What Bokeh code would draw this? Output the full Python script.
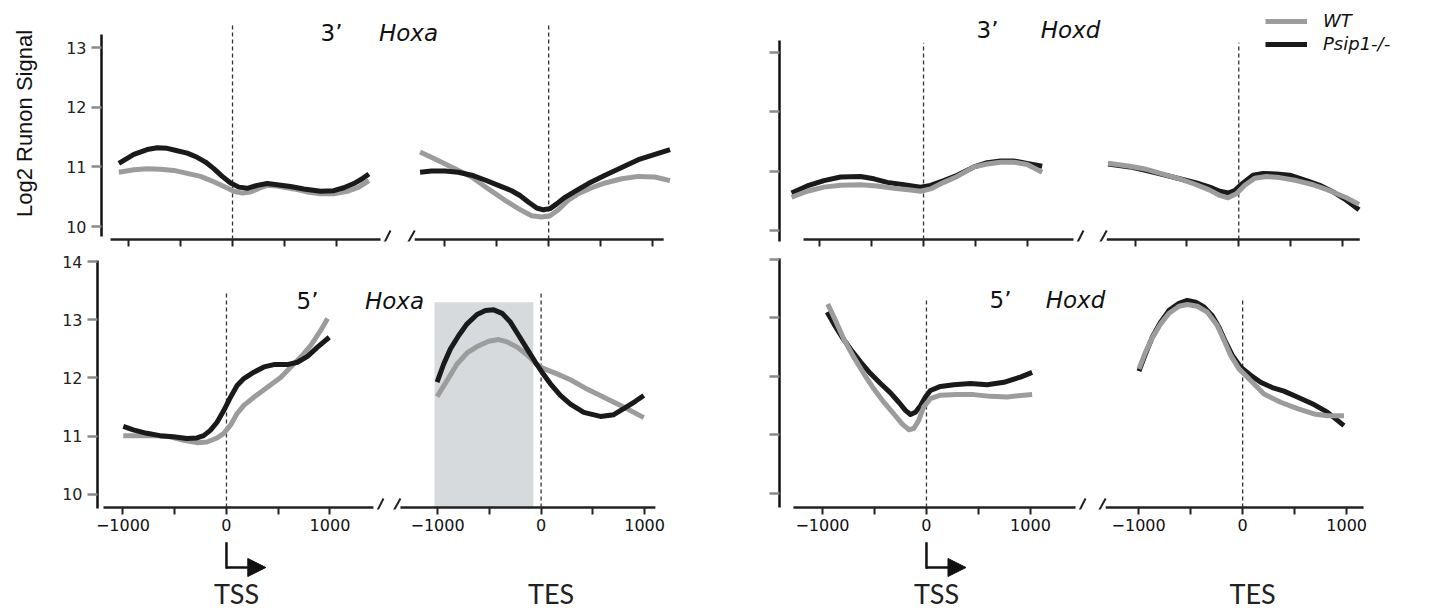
from bokeh.plotting import figure
from bokeh.layouts import column, row
from bokeh.models import Range1d, FixedTicker, Label, Legend, LegendItem, Arrow, NormalHead
from bokeh.core.properties import value
from bokeh.embed import file_html
from bokeh.resources import INLINE

# ---------------- data ----------------
X_TICKS = [-1000, -500, 0, 500, 1000]
X_TICK_LABELS = ["\u22121000", "", "0", "", "1000"]
Y_TICKS_TOP = [10, 11, 12, 13]
Y_TICK_LABELS_TOP = ["10", "11", "12", "13"]
Y_TICKS_BOTTOM = [10, 11, 12, 13, 14]
Y_TICK_LABELS_BOTTOM = ["10", "11", "12", "13", "14"]
SERIES = ["WT", "Psip1-/-"]
REGIONS = ["TSS", "TES"]
TITLE_PRIME = ["3\u2019", "3\u2019", "5\u2019", "5\u2019"]
TITLE_GENE = ["Hoxa", "Hoxd", "Hoxa", "Hoxd"]
Y_LABEL = "Log2 Runon Signal"

# 3' Hoxa
HOXA3_TSS_WT_X = [-1093, -949, -821, -692, -564, -436, -308, -180, -83, 13, 93, 173, 269, 333,
                  429, 590, 718, 846, 974, 1103, 1215, 1311]
HOXA3_TSS_WT_Y = [10.91, 10.95, 10.97, 10.96, 10.94, 10.89, 10.84, 10.75, 10.67, 10.59, 10.56,
                  10.58, 10.65, 10.69, 10.68, 10.63, 10.58, 10.55, 10.55, 10.59, 10.66, 10.77]
HOXA3_TSS_KO_X = [-1093, -949, -821, -724, -628, -532, -436, -340, -260, -180, -99, -19, 61, 141,
                  237, 333, 429, 558, 686, 846, 974, 1070, 1166, 1247, 1311]
HOXA3_TSS_KO_Y = [11.06, 11.21, 11.29, 11.32, 11.31, 11.27, 11.23, 11.16, 11.08, 10.97, 10.84,
                  10.73, 10.66, 10.64, 10.69, 10.72, 10.70, 10.67, 10.63, 10.59, 10.60, 10.65,
                  10.72, 10.80, 10.88]
HOXA3_TES_WT_X = [-1237, -1093, -901, -740, -580, -420, -292, -164, -67, 13, 93, 189, 285, 413,
                  542, 702, 862, 1022, 1167]
HOXA3_TES_WT_Y = [11.25, 11.13, 10.97, 10.83, 10.63, 10.44, 10.30, 10.18, 10.16, 10.18, 10.28,
                  10.44, 10.55, 10.65, 10.73, 10.80, 10.84, 10.83, 10.77]
HOXA3_TES_KO_X = [-1237, -1125, -997, -869, -740, -612, -484, -356, -276, -196, -115, -51, 13, 77,
                  157, 253, 381, 542, 702, 862, 1022, 1167]
HOXA3_TES_KO_Y = [10.91, 10.93, 10.93, 10.91, 10.86, 10.78, 10.69, 10.60, 10.52, 10.41, 10.31,
                  10.28, 10.30, 10.38, 10.49, 10.59, 10.72, 10.86, 10.99, 11.12, 11.21, 11.29]

# 5' Hoxa
HOXA5_TSS_WT_X = [-997, -835, -673, -544, -414, -285, -188, -91, -26, 39, 103, 168, 265, 395,
                  524, 621, 718, 815, 912, 977]
HOXA5_TSS_WT_Y = [11.01, 11.01, 11.01, 10.99, 10.93, 10.89, 10.90, 10.97, 11.05, 11.19, 11.39,
                  11.53, 11.67, 11.84, 12.01, 12.19, 12.36, 12.56, 12.82, 13.02]
HOXA5_TSS_KO_X = [-997, -900, -770, -641, -512, -382, -285, -220, -156, -91, -26, 39, 103, 168,
                  265, 362, 459, 589, 686, 783, 880, 993]
HOXA5_TSS_KO_Y = [11.17, 11.11, 11.05, 11.01, 10.99, 10.96, 10.97, 11.01, 11.10, 11.24, 11.44,
                  11.67, 11.87, 11.99, 12.10, 12.19, 12.23, 12.23, 12.27, 12.37, 12.53, 12.70]
HOXA5_TES_WT_X = [-1005, -908, -812, -715, -619, -506, -409, -329, -232, -136, -39, 25, 154, 283,
                  444, 605, 798, 992]
HOXA5_TES_WT_Y = [11.68, 11.96, 12.24, 12.43, 12.54, 12.63, 12.66, 12.62, 12.53, 12.40, 12.23,
                  12.16, 12.07, 11.97, 11.81, 11.67, 11.50, 11.32]
HOXA5_TES_KO_X = [-1005, -941, -876, -796, -715, -619, -538, -458, -377, -297, -216, -136, -55, 9,
                  90, 186, 283, 412, 573, 702, 814, 911, 992]
HOXA5_TES_KO_Y = [11.93, 12.24, 12.50, 12.73, 12.93, 13.09, 13.16, 13.17, 13.11, 12.96, 12.73,
                  12.50, 12.27, 12.10, 11.90, 11.70, 11.55, 11.41, 11.34, 11.37, 11.49, 11.60,
                  11.70]
HOXA5_TES_SHADE_X = [-1030, -75]
HOXA5_TES_SHADE_TOP = 13.30

# 3' Hoxd
HOXD3_TSS_WT_X = [-1273, -1122, -961, -800, -607, -447, -286, -125, -29, 68, 196, 325, 486, 614,
                  743, 871, 1000, 1144]
HOXD3_TSS_WT_Y = [10.56, 10.66, 10.73, 10.76, 10.77, 10.75, 10.71, 10.68, 10.66, 10.70, 10.81,
                  10.91, 11.07, 11.12, 11.15, 11.15, 11.11, 10.98]
HOXD3_TSS_KO_X = [-1273, -1122, -961, -800, -607, -479, -350, -190, -29, 68, 196, 325, 486, 614,
                  743, 871, 1000, 1144]
HOXD3_TSS_KO_Y = [10.63, 10.75, 10.84, 10.90, 10.91, 10.87, 10.81, 10.77, 10.73, 10.76, 10.84,
                  10.93, 11.07, 11.14, 11.17, 11.17, 11.13, 11.08]
HOXD3_TES_WT_X = [-1260, -1051, -890, -730, -569, -408, -280, -183, -103, -23, 58, 154, 267, 395,
                  556, 717, 877, 1038, 1160]
HOXD3_TES_WT_Y = [11.13, 11.08, 11.03, 10.95, 10.87, 10.77, 10.68, 10.59, 10.55, 10.62, 10.76,
                  10.88, 10.91, 10.89, 10.84, 10.77, 10.67, 10.55, 10.44]
HOXD3_TES_KO_X = [-1260, -1051, -890, -730, -569, -408, -280, -183, -103, -39, 42, 138, 235, 363,
                  492, 652, 781, 910, 1038, 1160]
HOXD3_TES_KO_Y = [11.12, 11.07, 11.01, 10.94, 10.87, 10.80, 10.73, 10.66, 10.63, 10.67, 10.80,
                  10.93, 10.96, 10.95, 10.93, 10.84, 10.76, 10.65, 10.51, 10.35]

# 5' Hoxd
HOXD5_TSS_WT_X = [-949, -875, -795, -699, -603, -506, -410, -314, -234, -170, -122, -74, -26, 38,
                  135, 295, 455, 615, 776, 936, 1016]
HOXD5_TSS_WT_Y = [13.24, 12.96, 12.64, 12.33, 12.05, 11.79, 11.56, 11.36, 11.19, 11.09, 11.11,
                  11.25, 11.48, 11.62, 11.68, 11.69, 11.69, 11.66, 11.65, 11.68, 11.69]
HOXD5_TSS_KO_X = [-955, -891, -811, -731, -635, -538, -442, -346, -266, -202, -154, -106, -58,
                  -10, 38, 135, 263, 423, 583, 744, 904, 1016]
HOXD5_TSS_KO_Y = [13.10, 12.90, 12.67, 12.47, 12.25, 12.05, 11.88, 11.72, 11.56, 11.42, 11.35,
                  11.39, 11.50, 11.65, 11.76, 11.83, 11.86, 11.88, 11.86, 11.90, 11.99, 12.07]
HOXD5_TES_WT_X = [-997, -933, -869, -788, -708, -612, -532, -436, -340, -244, -179, -115, -35,
                  77, 205, 365, 526, 686, 814, 974]
HOXD5_TES_WT_Y = [12.13, 12.42, 12.66, 12.90, 13.08, 13.20, 13.23, 13.20, 13.10, 12.87, 12.62,
                  12.36, 12.13, 11.93, 11.70, 11.56, 11.45, 11.36, 11.33, 11.33]
HOXD5_TES_KO_X = [-997, -933, -869, -788, -708, -612, -532, -452, -372, -292, -228, -164, -99,
                  -19, 77, 173, 285, 397, 526, 686, 814, 974]
HOXD5_TES_KO_Y = [12.09, 12.39, 12.67, 12.93, 13.13, 13.25, 13.30, 13.27, 13.19, 13.04, 12.84,
                  12.59, 12.36, 12.16, 12.02, 11.90, 11.81, 11.75, 11.65, 11.52, 11.39, 11.16]

# ---------------- styling / layout ----------------
OFF = 3040            # horizontal gap separating the TSS and TES windows (x units)
GRAY = "#9c9c9c"
BLACK = "#1a1a1a"
FONT = "DejaVu Sans"
W_LEFT, W_RIGHT = 700, 733
H_TOP, H_BOT, H_STRIP = 248, 292, 72


def base_fig(width, height, xr, yr, ml, mr, mt, mb, axes=True):
    kw = {}
    if not axes:
        kw = dict(x_axis_location=None, y_axis_location=None)
    p = figure(width=width, height=height, x_range=xr, y_range=yr,
               output_backend="svg", toolbar_location=None,
               min_border_left=ml, min_border_right=mr,
               min_border_top=mt, min_border_bottom=mb, **kw)
    p.outline_line_color = None
    p.xgrid.visible = False
    p.ygrid.visible = False
    p.background_fill_color = "white"
    p.border_fill_color = "white"
    return p


def make_panel(c):
    xr = Range1d(*c["xr"])
    yr = Range1d(*c["yr"])
    p = base_fig(c["width"], c["height"], xr, yr, c["ml"], c["mr"], c["mt"], c["mb"])
    fw = c["width"] - c["ml"] - c["mr"]
    fh = c["height"] - c["mt"] - c["mb"]
    sx = fw / (c["xr"][1] - c["xr"][0])
    sy = fh / (c["yr"][1] - c["yr"][0])
    ay = c["yr"][0] + 2.0 / sy

    # ---- x axis (ticks + labels from Bokeh, line drawn per window) ----
    xa = p.xaxis[0]
    ticks = X_TICKS + [t + OFF for t in X_TICKS]
    xa.ticker = FixedTicker(ticks=ticks)
    labs = X_TICK_LABELS if c["xlabels"] else [""] * len(X_TICKS)
    ov = {}
    for t, l in zip(X_TICKS, labs):
        ov[t] = l
        ov[t + OFF] = l
    xa.major_label_overrides = ov
    xa.axis_line_color = None
    xa.major_tick_line_color = "#222222"
    xa.major_tick_line_width = 2
    xa.major_tick_in = 2
    xa.major_tick_out = 5
    xa.minor_tick_line_color = None
    xa.major_label_text_font = FONT
    xa.major_label_text_color = "#111111"
    if c["xlabels"]:
        xa.major_label_text_font_size = "16px"
        xa.major_label_standoff = 4
    else:
        xa.major_label_text_font_size = "1px"
        xa.major_label_standoff = 0

    # ---- y axis ----
    ya = p.yaxis[0]
    ya.ticker = FixedTicker(ticks=c["yticks"])
    ya.bounds = c["ybounds"]
    ya.axis_line_color = "#111111"
    ya.axis_line_width = 2.5
    ya.major_tick_line_color = "#8a8a8a"
    ya.major_tick_line_width = 2.5
    ya.major_tick_in = 0
    ya.major_tick_out = 10
    ya.minor_tick_line_color = None
    ya.major_label_text_font = FONT
    ya.major_label_text_color = "#222222"
    if c["ylabels"] is not None:
        ya.major_label_overrides = {t: l for t, l in zip(c["yticks"], c["ylabels"])}
        ya.major_label_text_font_size = "16px"
        ya.major_label_standoff = 5
    else:
        ya.major_label_overrides = {t: "" for t in c["yticks"]}
        ya.major_label_text_font_size = "1px"
        ya.major_label_standoff = 0
    if c.get("ytitle"):
        ya.axis_label = c["ytitle"]
        ya.axis_label_text_font = "Liberation Sans"
        ya.axis_label_text_font_style = "normal"
        ya.axis_label_text_font_size = "22px"
        ya.axis_label_text_color = "#111111"
        ya.axis_label_standoff = 26

    # ---- shaded window ----
    if c.get("shade"):
        sxs, stop = c["shade"]
        p.quad(left=[sxs[0] + OFF], right=[sxs[1] + OFF], bottom=[ay], top=[stop],
               fill_color="#d6dadd", line_color=None)

    # ---- broken x axis lines ----
    (t0, t1), (e0, e1) = c["axis_tss"], c["axis_tes"]
    p.segment(x0=[t0, e0 + OFF], x1=[t1, e1 + OFF], y0=[ay, ay], y1=[ay, ay],
              line_color="#222222", line_width=2.5)
    for xa0, xa1 in [(t1 + 1 / sx, t1 + 10 / sx), (e0 + OFF - 10 / sx, e0 + OFF)]:
        p.add_layout(Arrow(x_start=xa0, y_start=ay - 9 / sy, x_end=xa1, y_end=ay + 9 / sy,
                           start=None, end=None, line_color="#222222", line_width=2))

    # ---- dashed TSS / TES markers ----
    p.segment(x0=[0, OFF], x1=[0, OFF], y0=[ay, ay], y1=[c["dash_top"]] * 2,
              line_color="#333333", line_width=1.3, line_dash="4 3")

    # ---- curves ----
    rend = {}
    for (wx, wy, kx, ky), shift in zip(c["curves"], [0, OFF]):
        order = [("ko", kx, ky, BLACK), ("wt", wx, wy, GRAY)] if c["gray_top"] else \
                [("wt", wx, wy, GRAY), ("ko", kx, ky, BLACK)]
        for key, xs, ys, col in order:
            r = p.line([v + shift for v in xs], ys, line_color=col, line_width=5,
                       line_join="round", line_cap="butt")
            rend.setdefault(key, r)

    # ---- title ----
    (px_, gx_, ty), prime, gene = c["title_pos"], c["title"][0], c["title"][1]
    p.add_layout(Label(x=px_, y=ty, text=prime, text_font=FONT, text_font_size="23px",
                       text_align="center", text_baseline="alphabetic", text_color="#111111"))
    p.add_layout(Label(x=gx_, y=ty, text=gene, text_font=FONT, text_font_size="23px",
                       text_font_style="italic", text_align="center",
                       text_baseline="alphabetic", text_color="#111111"))
    return p, rend


panels = {
    "TL": dict(width=W_LEFT, height=H_TOP, ml=101, mr=0, mt=5, mb=7,
               xr=(-1260, 4500), yr=(9.749, 13.704), yticks=Y_TICKS_TOP,
               ylabels=Y_TICK_LABELS_TOP, ybounds=(9.83, 13.22), xlabels=False,
               ytitle=Y_LABEL, axis_tss=(-1173, 1423), axis_tes=(-1288, 1106),
               dash_top=13.40, gray_top=False,
               curves=[(HOXA3_TSS_WT_X, HOXA3_TSS_WT_Y, HOXA3_TSS_KO_X, HOXA3_TSS_KO_Y),
                       (HOXA3_TES_WT_X, HOXA3_TES_WT_Y, HOXA3_TES_KO_X, HOXA3_TES_KO_Y)],
               title=(TITLE_PRIME[0], TITLE_GENE[0]), title_pos=(952, 1692, 13.25)),
    "TR": dict(width=W_RIGHT, height=H_TOP, ml=79, mr=0, mt=5, mb=7,
               xr=(-1389, 4918), yr=(9.815, 13.786), yticks=Y_TICKS_TOP,
               ylabels=None, ybounds=(9.82, 13.2), xlabels=False,
               axis_tss=(-1157, 1446), axis_tes=(-1273, 1167),
               dash_top=13.16, gray_top=True,
               curves=[(HOXD3_TSS_WT_X, HOXD3_TSS_WT_Y, HOXD3_TSS_KO_X, HOXD3_TSS_KO_Y),
                       (HOXD3_TES_WT_X, HOXD3_TES_WT_Y, HOXD3_TES_KO_X, HOXD3_TES_KO_Y)],
               title=(TITLE_PRIME[1], TITLE_GENE[1]), title_pos=(617, 1418, 13.37)),
    "BL": dict(width=W_LEFT, height=H_BOT, ml=97, mr=0, mt=8, mb=31,
               xr=(-1246, 4580), yr=(9.742, 14.086), yticks=Y_TICKS_BOTTOM,
               ylabels=Y_TICK_LABELS_BOTTOM, ybounds=(9.76, 14.02), xlabels=True,
               axis_tss=(-1188, 1420), axis_tes=(-1359, 1104),
               dash_top=13.47, gray_top=False,
               shade=(HOXA5_TES_SHADE_X, HOXA5_TES_SHADE_TOP),
               curves=[(HOXA5_TSS_WT_X, HOXA5_TSS_WT_Y, HOXA5_TSS_KO_X, HOXA5_TSS_KO_Y),
                       (HOXA5_TES_WT_X, HOXA5_TES_WT_Y, HOXA5_TES_KO_X, HOXA5_TES_KO_Y)],
               title=(TITLE_PRIME[2], TITLE_GENE[2]), title_pos=(783, 1623, 13.33)),
    "BR": dict(width=W_RIGHT, height=H_BOT, ml=79, mr=0, mt=8, mb=31,
               xr=(-1413, 4875), yr=(9.726, 14.051), yticks=Y_TICKS_BOTTOM,
               ylabels=None, ybounds=(9.76, 14.02), xlabels=True,
               axis_tss=(-1279, 1433), axis_tes=(-1317, 1163),
               dash_top=13.30, gray_top=True,
               curves=[(HOXD5_TSS_WT_X, HOXD5_TSS_WT_Y, HOXD5_TSS_KO_X, HOXD5_TSS_KO_Y),
                       (HOXD5_TES_WT_X, HOXD5_TES_WT_Y, HOXD5_TES_KO_X, HOXD5_TES_KO_Y)],
               title=(TITLE_PRIME[3], TITLE_GENE[3]), title_pos=(712, 1433, 13.30)),
}

figs = {}
rends = {}
for k, c in panels.items():
    figs[k], rends[k] = make_panel(c)

# legend on the 3' Hoxd panel
legend = Legend(items=[LegendItem(label=SERIES[0], renderers=[rends["TR"]["wt"]]),
                       LegendItem(label=SERIES[1], renderers=[rends["TR"]["ko"]])],
                location="top_right", orientation="vertical", margin=5, padding=0,
                spacing=2, glyph_width=42, glyph_height=20, label_width=105,
                label_standoff=16, label_text_font=FONT, label_text_font_style="italic",
                label_text_font_size="18px", label_text_color="#111111",
                border_line_color=None, background_fill_alpha=0)
figs["TR"].add_layout(legend)


def make_strip(width, ml, xr):
    s = base_fig(width, H_STRIP, xr, Range1d(H_STRIP, 0), ml, 0, 0, 0, axes=False)
    s.segment(x0=[0], x1=[0], y0=[3], y1=[27], line_color="#111111", line_width=2.5,
              line_cap="square")
    s.add_layout(Arrow(x_start=0, y_start=27, x_end=380, y_end=27, line_color="#111111",
                       line_width=2.5,
                       end=NormalHead(size=18, fill_color="#111111", line_color="#111111")))
    s.text(x=[0, OFF], y=[53, 53], text=REGIONS, x_offset=10, text_align="center",
           text_baseline="middle", text_font=value("Lato"),
           text_font_size="27px", text_color="#222222")
    return s


strip_l = make_strip(W_LEFT, 97, figs["BL"].x_range)
strip_r = make_strip(W_RIGHT, 79, figs["BR"].x_range)

layout = column(row(figs["TL"], figs["TR"]),
                row(figs["BL"], figs["BR"]),
                row(strip_l, strip_r))

open("out.html", "w").write(file_html(layout, INLINE))
